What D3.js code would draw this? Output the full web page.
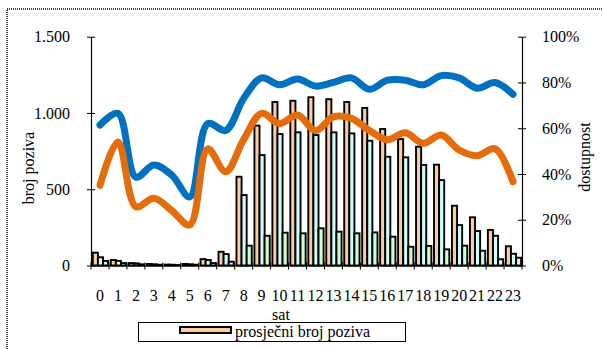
<!DOCTYPE html>
<html><head><meta charset="utf-8">
<script src="https://cdn.jsdelivr.net/npm/d3@7"></script>
<style>body{margin:0;background:#fff}svg{display:block}text{font-family:"Liberation Serif","Times New Roman",Times,serif;fill:#000}</style>
</head><body><svg id="c" width="603" height="349"></svg>
<script>
const hours = d3.range(24).map(String);
const callsA = [84,36,16,10,6,10,42,90,582,917,1072,1080,1103,1090,1072,1033,895,829,779,661,392,316,233,126];
const callsB = [54,30,14,8,5,8,36,75,462,724,862,873,855,873,866,818,713,709,659,560,265,226,195,77];
const callsC = [30,16,8,5,3,5,16,25,130,195,215,211,244,222,211,217,189,123,128,106,130,97,41,51];
const availBlue = [61.4,66.5,38.6,43.9,39.5,30,62,59,73,82,79,81.5,78.4,80,82,77,81,81,79,83,82,77.5,80,74.8];
const availOrange = [35,54,25.7,29.4,24,17.7,51,41,55,66.5,62,65.8,59,65,64.3,59,55,58,53.4,57,50.5,48,51,36.6];
const leftTicks = [0,500,1000,1500];
const rightTicks = [0,20,40,60,80,100];
const barColors = ["#FFCC99","#CCFFFF","#CCFFCC"];
const FONT = '"Liberation Serif","Times New Roman",Times,serif';
const FS = "16px";

const svg = d3.select("#c");
const L=91, R=522, T=36.7, B=265.5;
svg.append("rect").attr("x",7).attr("y",9).attr("width",610).attr("height",360)
  .attr("fill","none").attr("stroke","#444").attr("stroke-width",2).attr("stroke-dasharray","1,1");

const x = d3.scaleBand().domain(hours).range([L,R]);
const yL = d3.scaleLinear().domain([0,1500]).range([B,T]);
const yR = d3.scaleLinear().domain([0,100]).range([B,T]);
const fmt = d3.formatLocale({decimal:",",thousands:".",grouping:[3],currency:["",""]}).format(",");

// bars
const series=[callsA,callsB,callsC];
const bw=5.1;
series.forEach((s,k)=>{
  svg.append("g").selectAll("rect").data(s).join("rect")
    .attr("x",(d,i)=>x(hours[i])+1.8+k*bw)
    .attr("y",d=>yL(d)).attr("width",bw).attr("height",d=>B-yL(d))
    .attr("fill",barColors[k]).attr("stroke","#000").attr("stroke-width",1.9);
});

// lines
const line=(arr)=>d3.line().x((d,i)=>x(hours[i])+x.bandwidth()/2).y(d=>yR(d)).curve(d3.curveCatmullRom.alpha(0.5))(arr);
svg.append("path").attr("d",line(availBlue)).attr("fill","none").attr("stroke","#0070C0").attr("stroke-width",7).attr("stroke-linecap","round").attr("stroke-linejoin","round");
svg.append("path").attr("d",line(availOrange)).attr("fill","none").attr("stroke","#E46C0A").attr("stroke-width",7).attr("stroke-linecap","round").attr("stroke-linejoin","round");

// axes
const gl = svg.append("g").attr("transform",`translate(${L},0)`)
  .call(d3.axisLeft(yL).tickValues(leftTicks).tickFormat(d=>fmt(d)).tickSizeInner(4).tickSizeOuter(0).tickPadding(17));
gl.selectAll(".tick line").attr("x2",4).attr("x1",-4);
const gr = svg.append("g").attr("transform",`translate(${R},0)`)
  .call(d3.axisRight(yR).tickValues(rightTicks).tickFormat(d=>d+"%").tickSizeInner(4).tickSizeOuter(0).tickPadding(16));
gr.selectAll(".tick line").attr("x1",-4).attr("x2",4);
const gx = svg.append("g").attr("transform",`translate(0,${B})`)
  .call(d3.axisBottom(x).tickSize(0).tickPadding(24));
gx.selectAll(".tick line").remove();
svg.append("g").selectAll("line").data(d3.range(25)).join("line")
  .attr("x1",i=>L+i*x.step()).attr("x2",i=>L+i*x.step()).attr("y1",B-3).attr("y2",B+4).attr("stroke","#000");
[gl,gr,gx].forEach(g=>{g.attr("font-family",FONT);g.selectAll("path.domain").attr("stroke","#000").attr("stroke-width",1.2);
  g.selectAll("text").style("font-family",FONT).style("font-size",FS).attr("fill","#000");
  g.selectAll(".tick line").attr("stroke","#000");});
gl.selectAll("text").attr("dy","0.32em");
gr.selectAll("text").attr("dy","0.32em");

// titles
svg.append("text").attr("transform","translate(34,168) rotate(-90)").attr("text-anchor","middle").style("font-family",FONT).style("font-size",FS).text("broj poziva");
svg.append("text").attr("transform","translate(590,157) rotate(-90)").attr("text-anchor","middle").style("font-family",FONT).style("font-size",FS).text("dostupnost");
svg.append("text").attr("x",281).attr("y",320).attr("text-anchor","middle").style("font-family",FONT).style("font-size",FS).text("sat");

// legend
svg.append("rect").attr("x",138.5).attr("y",322.5).attr("width",267).attr("height",19).attr("fill","#fff").attr("stroke","#000").attr("stroke-width",1);
svg.append("rect").attr("x",180).attr("y",327).attr("width",51).attr("height",6).attr("fill",barColors[0]).attr("stroke","#000").attr("stroke-width",2);
svg.append("text").attr("x",235).attr("y",337).style("font-family",FONT).style("font-size",FS).text("prosječni broj poziva");
</script></body></html>
